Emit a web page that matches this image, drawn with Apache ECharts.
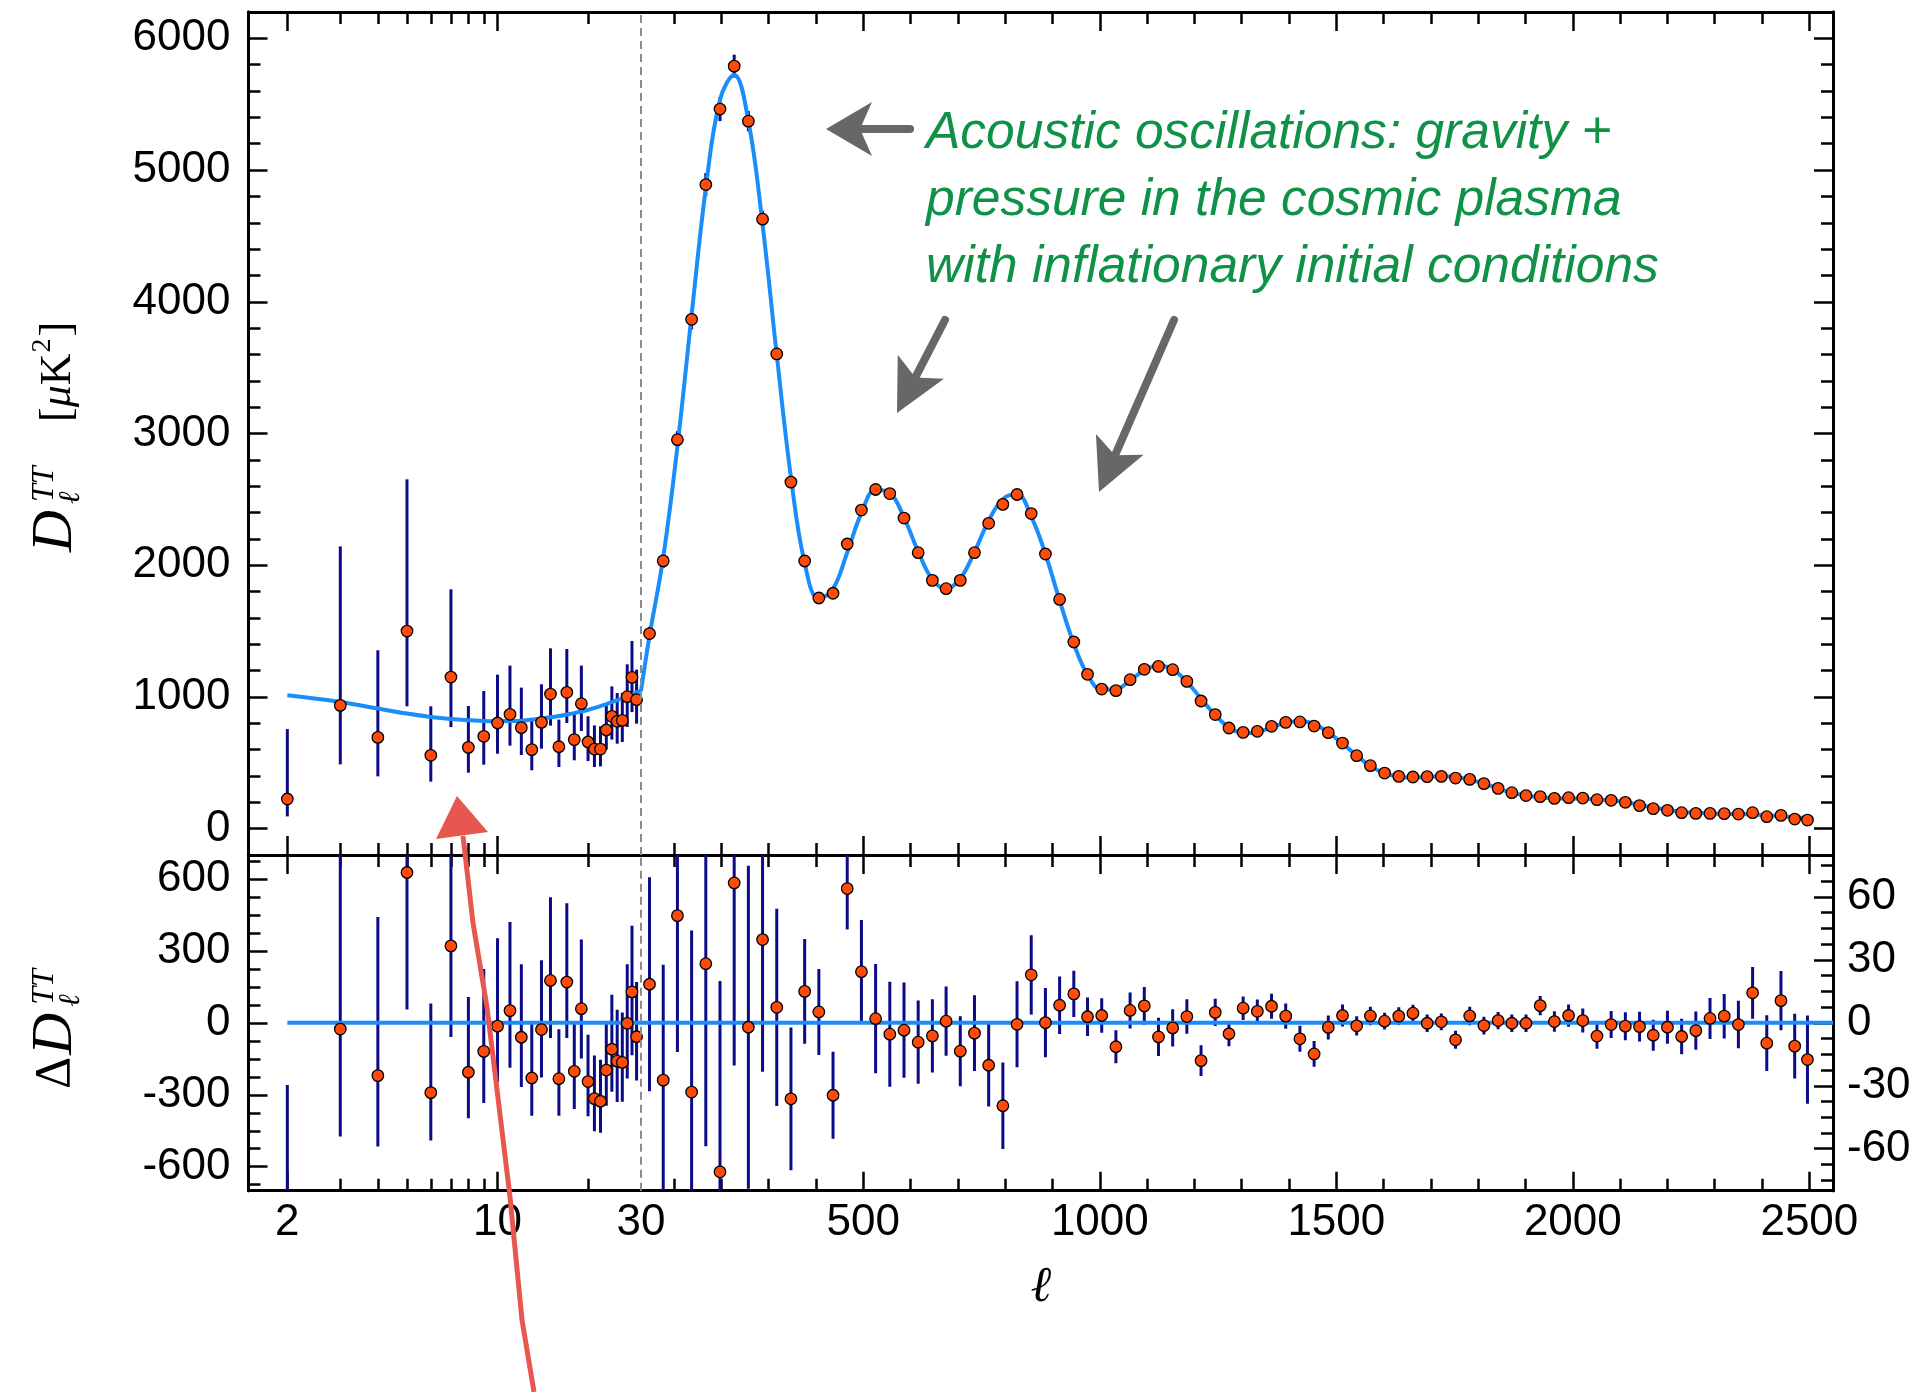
<!DOCTYPE html>
<html><head><meta charset="utf-8">
<script src="https://cdn.jsdelivr.net/npm/echarts@6/dist/echarts.min.js"></script>
<style>html,body{margin:0;padding:0;background:#fff}#c{width:1918px;height:1392px}</style>
</head><body><div id="c"></div>
<script>
// ---------------- data ----------------
const lowEll = [2,3,4,5,6,7,8,9,10,11,12,13,14,15,16,17,18,19,20,21,22,23,24,25,26,27,28,29];
const lowD = [225,936,693,1500,557,1151,617,701,802,868,767,600,807,1022,622,1035,676,949,658,604,604,749,853,815,822,1002,1149,979];
const lowErrHi = [531,1207,661,1152,372,666,314,344,367,370,304,232,289,347,206,329,209,289,195,180,173,205,227,215,208,246,276,228];
const lowErrLo = [132,448,296,571,200,380,192,215,233,238,208,157,200,240,154,233,157,208,145,136,131,149,177,170,164,230,264,182];
const lowResid = [-790,-26,-220,627,-291,321,-206,-119,-14,51,-60,-230,-28,177,-233,170,-202,59,-245,-316,-327,-197,-110,-160,-165,-2,129,-58];
const lowModelEll = [2,3,4,5,6,7,8,9,10,11,12,13,14,15,16,17,18,19,20,21,22,23,24,25,26,27,28,29,30];
const lowModelD = [1012,962,912,874,848,832,823,818,816,817,820,828,836,845,855,866,877,889,902,916,930,945,960,975,990,1004,1019,1035,1045];

const highEll = [48,77,107,137,167,197,227,257,287,317,347,376,406,436,466,496,526,556,586,616,646,675,705,735,765,795,825,855,885,915,945,974,1004,1034,1064,1094,1124,1154,1184,1214,1244,1273,1303,1333,1363,1393,1423,1453,1483,1513,1543,1572,1602,1632,1662,1692,1722,1752,1782,1812,1842,1871,1901,1931,1961,1991,2021,2051,2081,2111,2141,2170,2200,2230,2260,2290,2320,2350,2380,2410,2440,2469,2496];
const highD = [1481,2033,2953,3867,4890,5463,5789,5371,4627,3604,2631,2032,1751,1787,2161,2419,2575,2544,2358,2095,1885,1822,1885,2095,2318,2462,2537,2392,2085,1740,1417,1172,1060,1048,1131,1210,1232,1207,1118,969,866,764,731,739,777,807,810,779,729,650,554,478,422,397,392,395,397,384,374,342,306,273,251,243,230,235,232,220,215,200,175,152,139,121,116,116,114,111,121,91,101,73,65];
const highErr = [51,55,65,77,87,91,87,77,63,47,34,25,20.5,20.7,19.5,24.6,26,25,22.7,19.8,17.5,16.5,16.7,18,19.7,20.6,20.5,18.9,16.5,13.7,11,9.2,8.2,7.9,8.6,9,9.1,8.9,8.2,7.3,6.5,6,5.6,5.6,6,6,6.2,6.1,5.7,5.2,4.6,4.4,4,4.2,4,4.2,4,4.3,4.4,4.2,4.1,4.2,4.2,4.6,4.9,5.3,5.7,6,6.4,6.7,7.1,7.4,7.9,8.5,9.1,9.8,10.6,11.3,12.3,13.3,14.1,15.4,21];
const highResid = [18.4,-27.3,51.1,-33,28.2,-71,66.7,-2.1,39.7,7.4,-36.2,15,5.2,-34.5,64,24.4,2,-5.4,-3.5,-9.2,-6.2,0.8,-13.5,-4.9,-20.2,-39.5,-0.7,22.9,0.1,8.4,13.8,2.9,3.5,-11.4,5.9,8.1,-6.7,-2.4,3,-18,5,-5.2,7,5.5,7.9,3.2,-7.6,-14.8,-2.2,3.5,-1.4,3.3,0.8,3.2,4.6,-0.2,0.5,-8.1,3.3,-1.3,1.1,-0.2,-0.2,8.2,0.6,3.5,1.1,-6.3,-0.8,-1.6,-1.8,-5.9,-2.1,-6.5,-3.7,2.1,3.2,-0.8,14.3,-9.7,10.6,-11.1,-17.5];
const highModelEll = [30].concat(highEll, [2508]);
const highModelD = [1045,1463,2060,2902,3900,4862,5534,5722,5373,4587,3597,2667,2017,1746,1821,2097,2395,2573,2549,2362,2104,1891,1821,1899,2100,2338,2502,2538,2369,2085,1732,1403,1169,1056,1059,1125,1202,1239,1209,1115,987,861,769,724,733,769,804,818,794,731,646,555,475,421,394,387,395,397,392,371,343,305,273,251,238,230,229,227,222,214,202,180,160,143,128,120,115,112,111,108,102,94,86,80,78];

// tick labels
const xLabelsLog = [2, 10];
const xLabelsLin = [30, 500, 1000, 1500, 2000, 2500];
const yLabelsTop = [0, 1000, 2000, 3000, 4000, 5000, 6000];
const yLabelsResLow = [-600, -300, 0, 300, 600];
const yLabelsResHigh = [-60, -30, 0, 30, 60];

// ---------------- layout / style ----------------
const L0 = 248.5, XB = 641, R0 = 1833, T0 = 12, MID = 855, B0 = 1190.7;
const LOGMIN = 1.4856, LINMAX = 2550;
const FONT = '"Liberation Sans", Arial, Helvetica, sans-serif';
const SERIF = '"Liberation Serif", "DejaVu Serif", serif';
const BLUE = '#1b8dfb', NAVY = '#0b0b87', DOT = '#ff4a0a';

const logMajor = [2, 10], logMinor = [3,4,5,6,7,8,9,20];
const linMajor = [500,1000,1500,2000,2500];
const linMinor = []; for (let v = 100; v < 2550; v += 100) if (v % 500) linMinor.push(v);
const topMinor = []; for (let v = 200; v < 6200; v += 200) if (v % 1000) topMinor.push(v);
const resLowMinor = []; for (let v = -675; v <= 675; v += 75) if (v % 300) resLowMinor.push(v);
const resHighMinor = []; for (let v = -75; v <= 75; v += 7.5) if (Math.abs(v % 30) > 1e-9) resHighMinor.push(v);

const MAJ = 19, MIN = 12;
const labelStyle = { fontFamily: FONT, fontSize: 44, color: '#000' };

function xAx(grid, isLog, pos, ticks, len, labels) {
  const a = {
    type: isLog ? 'log' : 'value', gridIndex: grid, position: pos,
    min: isLog ? LOGMIN : 30, max: isLog ? 30 : LINMAX,
    axisLine: { show: true, onZero: false, lineStyle: { color: '#000', width: 3 } },
    axisTick: { show: true, inside: true, length: len, customValues: ticks, lineStyle: { color: '#000', width: 2.5 } },
    axisLabel: labels ? Object.assign({ show: true, customValues: labels, margin: 10, showMinLabel: true, showMaxLabel: true,
      formatter: v => String(Math.round(v)) }, labelStyle) : { show: false },
    splitLine: { show: false }, minorTick: { show: false }, minorSplitLine: { show: false }
  };
  if (isLog) a.logBase = 10;
  return a;
}
function yAx(grid, pos, min, max, ticks, len, labels, showLine) {
  return {
    type: 'value', gridIndex: grid, position: pos, min, max,
    axisLine: { show: showLine, onZero: false, lineStyle: { color: '#000', width: 3 } },
    axisTick: { show: true, inside: true, length: len, customValues: ticks, lineStyle: { color: '#000', width: 2.5 } },
    axisLabel: labels ? Object.assign({ show: true, customValues: labels, margin: pos === 'left' ? 18 : 14,
      formatter: v => String(v) }, labelStyle) : { show: false },
    splitLine: { show: false }, minorTick: { show: false }, minorSplitLine: { show: false }
  };
}

const grids = [
  { left: L0, top: T0, width: XB - L0, height: MID - T0 },
  { left: XB, top: T0, width: R0 - XB, height: MID - T0 },
  { left: L0, top: MID, width: XB - L0, height: B0 - MID },
  { left: XB, top: MID, width: R0 - XB, height: B0 - MID }
].map(g => Object.assign(g, { containLabel: false, outerBoundsMode: 'none' }));

const xAxes = [];
[0,1,2,3].forEach(g => {
  const isLog = (g % 2 === 0);
  const maj = isLog ? logMajor : linMajor, mn = isLog ? logMinor : linMinor;
  const labels = g >= 2 ? (isLog ? xLabelsLog : xLabelsLin) : null;
  xAxes.push(xAx(g, isLog, 'bottom', maj, MAJ, labels));
  xAxes.push(xAx(g, isLog, 'bottom', mn, MIN, null));
  xAxes.push(xAx(g, isLog, 'top', maj, MAJ, null));
  xAxes.push(xAx(g, isLog, 'top', mn, MIN, null));
});
const yAxes = [
  yAx(0, 'left', -200, 6200, yLabelsTop, MAJ, yLabelsTop, true),
  yAx(0, 'left', -200, 6200, topMinor, MIN, null, true),
  yAx(1, 'right', -200, 6200, yLabelsTop, MAJ, null, true),
  yAx(1, 'right', -200, 6200, topMinor, MIN, null, true),
  yAx(2, 'left', -700, 700, yLabelsResLow, MAJ, yLabelsResLow, true),
  yAx(2, 'left', -700, 700, resLowMinor, MIN, null, true),
  yAx(3, 'right', -80, 80, yLabelsResHigh, MAJ, yLabelsResHigh, true),
  yAx(3, 'right', -80, 80, resHighMinor, MIN, null, true)
];

function errSeries(g, data) {
  return {
    type: 'custom', xAxisIndex: g * 4, yAxisIndex: g * 2, z: 2, silent: true, clip: true,
    encode: { x: 0, y: [1, 2] },
    renderItem: (params, api) => {
      const cs = params.coordSys;
      const a = api.coord([api.value(0), api.value(1)]);
      const b = api.coord([api.value(0), api.value(2)]);
      const top = cs.y, bot = cs.y + cs.height;
      const y1 = Math.min(Math.max(a[1], top), bot), y2 = Math.min(Math.max(b[1], top), bot);
      if (y1 === y2) return null;
      return { type: 'line', shape: { x1: a[0], y1, x2: b[0], y2 },
        style: { stroke: NAVY, lineWidth: 3 } };
    },
    data
  };
}
function dotSeries(g, data) {
  return { type: 'scatter', xAxisIndex: g * 4, yAxisIndex: g * 2, z: 4, silent: true, clip: true,
    symbol: 'circle', symbolSize: 11.5,
    itemStyle: { color: DOT, borderColor: '#000', borderWidth: 1.3, opacity: 1 }, data };
}
function lineSeries(g, data, dashed) {
  const s = { type: 'line', xAxisIndex: g * 4, yAxisIndex: g * 2, z: 3, silent: true, smooth: 0.4,
    symbol: 'none', clip: true, lineStyle: { color: BLUE, width: 4 }, data };
  if (dashed) s.markLine = { silent: true, symbol: ['none', 'none'], label: { show: false },
    lineStyle: { color: '#8c8c8c', type: [8, 5], width: 2 }, data: [{ xAxis: 30 }] };
  return s;
}

const series = [
  errSeries(0, lowEll.map((l, i) => [l, lowD[i] - lowErrLo[i], lowD[i] + lowErrHi[i]])),
  lineSeries(0, lowModelEll.map((l, i) => [l, lowModelD[i]])),
  dotSeries(0, lowEll.map((l, i) => [l, lowD[i]])),

  errSeries(1, highEll.map((l, i) => [l, highD[i] - highErr[i], highD[i] + highErr[i]])),
  lineSeries(1, highModelEll.map((l, i) => [l, highModelD[i]]), true),
  dotSeries(1, highEll.map((l, i) => [l, highD[i]])),

  errSeries(2, lowEll.map((l, i) => [l, lowResid[i] - lowErrLo[i], lowResid[i] + lowErrHi[i]])),
  lineSeries(2, [[lowEll[0], 0], [30, 0]]),
  dotSeries(2, lowEll.map((l, i) => [l, lowResid[i]])),

  errSeries(3, highEll.map((l, i) => [l, highResid[i] - highErr[i], highResid[i] + highErr[i]])),
  lineSeries(3, [[30, 0], [LINMAX, 0]], true),
  dotSeries(3, highEll.map((l, i) => [l, highResid[i]]))
];

// ---------------- annotations ----------------
const cv = document.createElement('canvas').getContext('2d');
function tw(text, font) { cv.font = font; return cv.measureText(text).width; }

function txt(x, y, text, font, extra) {
  return Object.assign({ type: 'text', x, y, z: 100, silent: true,
    style: { text, font, fill: '#000', align: 'left', verticalAlign: 'middle' } }, extra || {});
}
function arrowEls(T, P, Lh, W, N, color, lw) {
  const dx = P[0] - T[0], dy = P[1] - T[1], d = Math.hypot(dx, dy);
  const ux = dx / d, uy = dy / d, nx = -uy, ny = ux;
  const bx = P[0] - Lh * ux, by = P[1] - Lh * uy;
  const notch = [P[0] - (Lh - N) * ux, P[1] - (Lh - N) * uy];
  return [
    { type: 'polyline', z: 100, silent: true, shape: { points: [T, notch] },
      style: { stroke: color, lineWidth: lw, lineCap: 'round', fill: null } },
    { type: 'polygon', z: 100, silent: true,
      shape: { points: [P, [bx + W * nx, by + W * ny], notch, [bx - W * nx, by - W * ny]] },
      style: { fill: color } }
  ];
}

const fD = 'italic 58px ' + SERIF, fSup = 'italic 32px ' + SERIF, fSub = 'italic 30px ' + SERIF;
const fUnit = '44px ' + SERIF, fUnitI = 'italic 44px ' + SERIF, fSup2 = '28px ' + SERIF;
const unitX = 130;
const w1 = tw('[', fUnit), w2 = tw('μ', fUnitI), w3 = tw('K', fUnit), w4 = tw('2', fSup2);
const yTitle1 = {
  type: 'group', x: 56, y: 552, rotation: Math.PI / 2, silent: true, z: 100,
  children: [
    txt(0, 0, 'D', fD),
    txt(50, -11, 'TT', fSup),
    txt(48, 15, 'ℓ', fSub),
    txt(unitX, 2, '[', fUnit),
    txt(unitX + w1, 2, 'μ', fUnitI),
    txt(unitX + w1 + w2, 2, 'K', fUnit),
    txt(unitX + w1 + w2 + w3 + 1, -13, '2', fSup2),
    txt(unitX + w1 + w2 + w3 + w4 + 3, 2, ']', fUnit)
  ]
};
const fDelta = '50px ' + SERIF;
const wDelta = tw('Δ', fDelta);
const yTitle2 = {
  type: 'group', x: 56, y: 1089, rotation: Math.PI / 2, silent: true, z: 100,
  children: [
    txt(0, 0, 'Δ', fDelta),
    txt(wDelta + 2, 0, 'D', fD),
    txt(wDelta + 52, -11, 'TT', fSup),
    txt(wDelta + 50, 15, 'ℓ', fSub)
  ]
};
const GREEN = '#0f9148';
const fAnn = 'italic 51.5px ' + FONT;
const annLines = ['Acoustic oscillations: gravity +', 'pressure in the cosmic plasma', 'with inflationary initial conditions'];
const annY = [134, 201, 268];
const annEls = annLines.map((t, i) => ({ type: 'text', x: 926, y: annY[i], z: 100, silent: true,
  style: { text: t, font: fAnn, fill: GREEN, align: 'left', verticalAlign: 'middle' } }));

const GRAY = '#676767', RED = '#e8574f';
const redShaft = { type: 'polyline', z: 101, silent: true,
  shape: { points: [[534, 1392], [522, 1320], [510, 1197], [487, 1007], [473, 923], [463, 836]] },
  style: { stroke: RED, lineWidth: 5, fill: null } };
const redHead = { type: 'polygon', z: 101, silent: true,
  shape: { points: [[457, 796], [488, 832], [436, 839]] }, style: { fill: RED } };

const graphicEls = [].concat(
  annEls,
  arrowEls([910, 129], [826, 129], 46, 27, 12, GRAY, 8),
  arrowEls([945, 320], [897, 413], 52, 26, 12, GRAY, 8),
  arrowEls([1174, 320], [1099, 492], 52, 26, 12, GRAY, 8),
  [redShaft, redHead, yTitle1, yTitle2,
   { type: 'text', x: 1041, y: 1288, z: 100, silent: true,
     style: { text: 'ℓ', font: 'italic 50px ' + SERIF, fill: '#000', align: 'center', verticalAlign: 'middle' } }]
);

const chart = echarts.init(document.getElementById('c'), null, { renderer: 'canvas', width: 1918, height: 1392 });
chart.setOption({
  animation: false,
  backgroundColor: '#fff',
  grid: grids,
  xAxis: xAxes,
  yAxis: yAxes,
  series,
  graphic: { elements: graphicEls }
});
</script>
</body></html>
